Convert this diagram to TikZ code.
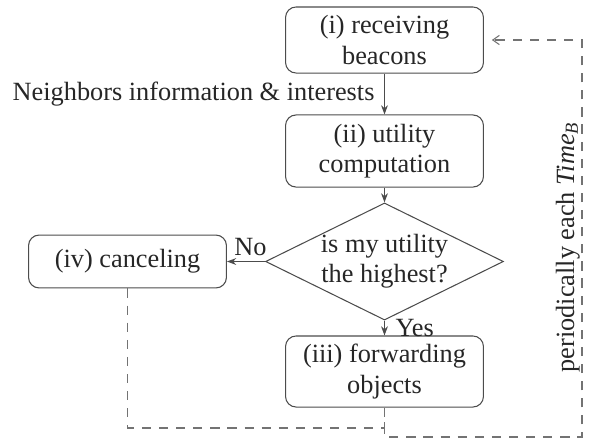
\documentclass[tikz,border=0pt]{standalone}
\usepackage{fontspec}
\setmainfont{LiberationSerif}[Extension=.ttf, UprightFont=*-Regular, ItalicFont=*-Italic, BoldFont=*-Bold, BoldItalicFont=*-BoldItalic]
\usetikzlibrary{shapes.geometric,arrows.meta}
\begin{document}
\begin{tikzpicture}[x=0.38pt,y=-0.38pt,
 every node/.style={font=\rmfamily\fontsize{10}{11.5}\selectfont, text=black!85},
 box/.style={draw=black!70, rounded corners=4pt, align=center, minimum width=75.2pt, inner sep=2pt, line width=0.4pt},
 dec/.style={draw=black!70, diamond, aspect=2.03, align=center, inner sep=0pt, minimum width=90.4pt, minimum height=44.5pt, line width=0.4pt},
 arr/.style={draw=black!70, -{Stealth[length=3.5pt,width=2.6pt]}, line width=0.4pt},
 dsh/.style={draw=black!55, dash pattern=on 3.5pt off 3pt, line width=0.4pt},
 lbl/.style={inner sep=0pt}]
\useasboundingbox (0,0) rectangle (594,438);
\node[box, minimum height=25.1pt] (i) at (384.5,40) {(i) receiving\\beacons};
\node[box, minimum height=27.4pt] (ii) at (384.5,151) {(ii) utility\\computation};
\node[dec] (d) at (384.5,261.5) {is my utility\\the highest?};
\node[box, minimum height=20.1pt] (iv) at (127.5,261.5) {(iv) canceling};
\node[box, minimum height=27pt] (iii) at (384.5,371.5) {(iii) forwarding\\objects};
\coordinate (bl) at (0,428);
\coordinate (br) at (582,437);
\draw[arr] (i) -- (ii);
\node[lbl, anchor=base east] (nl) at (375,100) {Neighbors information \& interests};
\draw[arr] (ii) -- (d);
\draw[arr] (d.west) -- (iv.east);
\node[lbl, anchor=base east] (no) at (267,255) {No};
\draw[arr] (d.south) -- (iii);
\node[lbl, anchor=base west] (yes) at (395,336) {Yes};
\draw[dsh] (iv.south) |- (iii.south |- bl) -- (iii.south);
\draw[dsh, -{Straight Barb[length=2.5pt,width=3.5pt]}] (iii.south) |- (br) |- ([xshift=3pt]i.east);
\node[lbl, anchor=base west, rotate=90] (per) at (574,373) {periodically each {\itshape Time}\textsubscript{\itshape B}};
\end{tikzpicture}
\end{document}
